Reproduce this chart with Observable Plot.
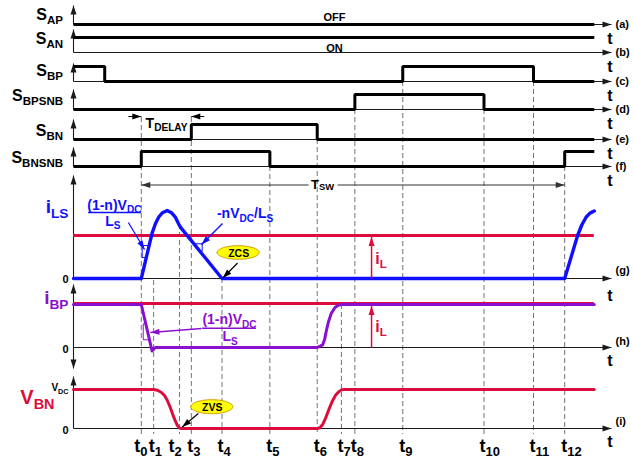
<!DOCTYPE html>
<html>
<head>
<meta charset="utf-8">
<script src="https://cdn.jsdelivr.net/npm/d3@7"></script>
<script src="https://cdn.jsdelivr.net/npm/@observablehq/plot@0.6"></script>
<style>
html,body{margin:0;padding:0;background:#fff;}
#chart svg{display:block;}
</style>
</head>
<body>
<div id="chart"></div>
<script>
// ---------------- data ----------------
const tIndex = ["0","1","2","3","4","5","6","7","8","9","10","11","12"];
const tTimes = [12.6, 14.9, 19.7, 21.9, 27.6, 36.5, 45.3, 49.8, 52.3, 61.2, 76.3, 85.5, 91.3];
const tEnd = 96.8;      // end of drawn traces
const tAxisEnd = 100;   // arrow tip of time axes
const tBPfall = 5.8;    // S_BP turn-off before t0

const swNames = ["S_{AP}", "S_{AN}", "S_{BP}", "S_{BPSNB}", "S_{BN}", "S_{BNSNB}"];
const swTags = ["(a)", "(b)", "(c)", "(d)", "(e)", "(f)"];
const swEdgeTimes = [
  [0, tEnd],
  [0, tEnd],
  [0, tBPfall, tTimes[9], tTimes[11], tEnd],
  [0, tTimes[8], tTimes[10], tEnd],
  [0, tTimes[3], tTimes[6], tEnd],
  [0, tTimes[0], tTimes[5], tTimes[12], tEnd]
];
const swStates = [[0,0],[1,1],[1,0,1,0,0],[0,1,0,0],[0,1,0,0],[0,1,0,1,1]];
const stateWords = ["OFF", "ON"];

// currents in units of i_L, voltage in units of V_DC
const iLS_t = [0, 12.6, 14.6, 15.24, 15.85, 16.54, 17.41, 18.2, 18.96, 19.5, 19.9, 27.6, 91.3, 92.5, 93.7, 94.5, 95.3, 96.0, 96.8];
const iLS_v = [0, 0, 1.05, 1.28, 1.43, 1.53, 1.58, 1.53, 1.42, 1.28, 1.19, 0, 0, 0.5, 1.0, 1.25, 1.43, 1.52, 1.57];
const iBP_t = [0, 12.6, 14.6, 15.2, 45.3, 46.3, 46.7, 47.0, 47.4, 47.9, 48.6, 49.2, 49.8, 96.8];
const iBP_v = [1, 1, -0.08, 0, 0, 0.06, 0.2, 0.39, 0.6, 0.79, 0.93, 0.98, 1, 1];
const vBN_t = [0, 14.9, 15.6, 16.3, 16.9, 17.4, 17.9, 18.4, 18.9, 19.3, 19.7, 20.0, 45.3, 45.8, 46.3, 46.9, 47.5, 48.1, 48.7, 49.3, 49.8, 50.3, 96.8];
const vBN_v = [1, 1, 0.98, 0.93, 0.85, 0.73, 0.57, 0.38, 0.2, 0.08, 0.01, 0, 0, 0.02, 0.1, 0.28, 0.5, 0.7, 0.85, 0.94, 0.99, 1, 1];
const iLLevel = 1;

// ---------------- layout ----------------
const BLUE = "#1010ff", RED = "#dc0c3c", PURPLE = "#8a10d0", YEL = "#ffff00", GOLD = "#d09a00";
const rowBase = [24, 52, 81, 109, 139, 166];
const rowTop = [5, 29, 63, 89, 119, 147];
const rowAmp = 15;
const rowLabelY = [19, 43, 75, 100, 135, 162];
const panel = {
  g: {base: 278, amp: 43, top: 175},
  h: {base: 347, amp: 43, top: 284, bottom: 368},
  i: {base: 428, amp: 39, top: 376}
};
const dashTop = [117, 280, 224, 117, 278, 166, 139, 304, 109, 81, 109, 81, 166];
const dashBottom = 434;
const tLabelDx = [-7, -5, -11, -4, -4.5, -3.5, -3.5, -4, -4, -3.5, -4.5, -4, -3.5];

const py = (p, v) => panel[p].base - v * panel[p].amp;

const swData = swEdgeTimes.flatMap((ts, r) => ts.map((t, k) => ({row: r, t, y: rowBase[r] - swStates[r][k] * rowAmp})));
const iLSData = iLS_t.map((t, k) => ({t, y: py("g", iLS_v[k])}));
const iBPData = iBP_t.map((t, k) => ({t, y: py("h", iBP_v[k])}));
const vBNData = vBN_t.map((t, k) => ({t, y: py("i", vBN_v[k])}));
const dashData = tTimes.map((t, k) => ({t, y1: dashTop[k], y2: dashBottom}));

const hAxes = [...rowBase, panel.g.base, panel.h.base, panel.i.base].map(b => ({x1: 0, x2: tAxisEnd, y1: b, y2: b}));
const vAxes = [
  ...rowBase.map((b, k) => ({x1: 0, x2: 0, y1: b, y2: rowTop[k]})),
  {x1: 0, x2: 0, y1: panel.g.base, y2: panel.g.top},
  {x1: 0, x2: 0, y1: panel.h.base, y2: panel.h.top},
  {x1: 0, x2: 0, y1: panel.h.base, y2: panel.h.bottom},
  {x1: 0, x2: 0, y1: panel.i.base, y2: panel.i.top}
];

function ellipse(cx, cy, rx, ry) {
  const n = 48;
  return d3.range(n + 1).map(k => {
    const a = Math.PI * k / n;
    const u = -Math.cos(a), s = Math.sin(a);
    return {x: cx + u * rx, y1: cy - s * ry, y2: cy + s * ry};
  });
}

const txt = (data, o) => Plot.text(data, {text: "s", x: "x", y: "y", lineAnchor: "bottom", fontWeight: "bold", ...o});
const left = (s, y, dx, size, fill) => Plot.text([{s, y}], {text: "s", y: "y", frameAnchor: "left", dx, textAnchor: "end", lineAnchor: "bottom", fontWeight: "bold", fontSize: size, fill});

const tagData = [
  ...swTags.map((s, k) => ({s, x: tAxisEnd, y: rowBase[k] + 3.5})),
  {s: "(g)", x: tAxisEnd, y: 273}, {s: "(h)", x: tAxisEnd, y: 344}, {s: "(i)", x: tAxisEnd, y: 424}
];
const tRightY = [43, 71, 100, 128, 158, 185, 300, 365, 446];
const tRight = tRightY.map(y => ({s: "t", x: tAxisEnd, y}));

const chart = Plot.plot({
  width: 634, height: 461, margin: 0,
  x: {domain: [0, 100], range: [73, 611], axis: null},
  y: {domain: [0, 461], range: [0, 461], axis: null},
  style: {fontFamily: "'Liberation Sans', Arial, Helvetica, sans-serif", background: "#fff", overflow: "visible"},
  marks: [
    Plot.ruleX(dashData, {x: "t", y1: "y1", y2: "y2", stroke: "#737373", strokeWidth: 1, strokeDasharray: "5,3"}),
    Plot.link(hAxes.concat(vAxes), {x1: "x1", y1: "y1", x2: "x2", y2: "y2", stroke: "#1a1a1a", strokeWidth: 1.1, markerEnd: "arrow", ariaLabel: "axis"}),
    Plot.ruleY([{y: py("g", iLLevel), x1: 0, x2: tEnd}], {y: "y", x1: "x1", x2: "x2", stroke: RED, strokeWidth: 3}),
    Plot.ruleY([{y: py("h", iLLevel), x1: 0, x2: tEnd}], {y: "y", x1: "x1", x2: "x2", stroke: RED, strokeWidth: 3, dy: -1}),
    Plot.line(swData, {x: "t", y: "y", z: "row", curve: "step-after", stroke: "#000", strokeWidth: 3, strokeLinejoin: "miter", strokeLinecap: "butt"}),
    Plot.line(iBPData, {x: "t", y: "y", stroke: PURPLE, strokeWidth: 3}),
    Plot.line(iLSData, {x: "t", y: "y", stroke: BLUE, strokeWidth: 3.4}),
    Plot.line(vBNData, {x: "t", y: "y", stroke: RED, strokeWidth: 3}),

    // T_DELAY
    Plot.link([{x1: 10.2, x2: tTimes[0], y: 116}, {x1: 24.3, x2: tTimes[3], y: 116}], {x1: "x1", x2: "x2", y1: "y", y2: "y", stroke: "#000", strokeWidth: 1, markerEnd: "arrow", ariaLabel: "delay"}),
    txt([{s: "T_{DELAY}", x: 13.4, y: 127}], {textAnchor: "start", fontSize: 14, fill: "#000"}),
    // T_SW
    Plot.link([{x1: 43.7, x2: tTimes[0], y: 184.5}, {x1: 49.1, x2: tTimes[12], y: 184.5}], {x1: "x1", x2: "x2", y1: "y", y2: "y", stroke: "#333", strokeWidth: 1.1, markerEnd: "arrow", ariaLabel: "span"}),
    txt([{s: "T~{SW}", x: 46.3, y: 188.5}], {textAnchor: "middle", fontSize: 13, fill: "#000"}),

    // blue slope annotations
    Plot.ruleY([{y: 212, x1: 2.8, x2: 12.6}], {y: "y", x1: "x1", x2: "x2", stroke: BLUE, strokeWidth: 1.5}),
    txt([{s: "(1-n)V_{DC}", x: 7.6, y: 209}], {textAnchor: "middle", fontSize: 14, fill: BLUE}),
    txt([{s: "L_{S}", x: 7.3, y: 225}], {textAnchor: "middle", fontSize: 14, fill: BLUE}),
    Plot.link([{x1: 10.2, y1: 222, x2: 13.2, y2: 249}], {x1: "x1", y1: "y1", x2: "x2", y2: "y2", stroke: BLUE, strokeWidth: 1.3, markerEnd: "arrow", ariaLabel: "note"}),
    Plot.line([{x: 14.06, y: 245}, {x: 12.77, y: 245}, {x: 12.77, y: 257}, {x: 13.53, y: 257}], {x: "x", y: "y", stroke: BLUE, strokeWidth: 1, curve: "linear"}),
    txt([{s: "-nV_{DC}/L_{S}", x: 31.9, y: 217.5}], {textAnchor: "middle", fontSize: 14, fill: BLUE}),
    Plot.link([{x1: 27.7, y1: 223, x2: 23.8, y2: 244}], {x1: "x1", y1: "y1", x2: "x2", y2: "y2", stroke: BLUE, strokeWidth: 1.3, markerEnd: "arrow", ariaLabel: "note"}),
    Plot.line([{x: 22.36, y: 243.3}, {x: 23.92, y: 243.3}, {x: 23.92, y: 250.7}, {x: 23.49, y: 250.7}], {x: "x", y: "y", stroke: BLUE, strokeWidth: 1, curve: "linear"}),

    // ZCS
    Plot.area(ellipse(30.7, 252.5, 3.9, 6.8), {x1: "x", y1: "y1", y2: "y2", fill: YEL, stroke: GOLD, strokeWidth: 1}),
    txt([{s: "ZCS", x: 30.7, y: 256.3}], {textAnchor: "middle", fontSize: 10.5, fill: "#000"}),
    Plot.link([{x1: 30.5, y1: 262.5, x2: 27.75, y2: 277.5}], {x1: "x1", y1: "y1", x2: "x2", y2: "y2", stroke: "#000", strokeWidth: 1.2, markerEnd: "arrow", ariaLabel: "small"}),

    // i_L arrows
    Plot.link([{x: 55.4, y1: py("g", 0), y2: py("g", iLLevel) + 1.5}, {x: 55.4, y1: py("h", 0), y2: py("h", iLLevel) + 1.5}], {x1: "x", x2: "x", y1: "y1", y2: "y2", stroke: RED, strokeWidth: 1.5, markerEnd: "arrow", ariaLabel: "il"}),
    txt([{s: "i_{L}", x: 56.1, y: 263.5}, {s: "i_{L}", x: 56.1, y: 331}], {textAnchor: "start", fontSize: 16, fill: RED}),

    // purple slope annotation
    Plot.ruleY([{y: 327.7, x1: 24.0, x2: 34.0}], {y: "y", x1: "x1", x2: "x2", stroke: PURPLE, strokeWidth: 1.5}),
    txt([{s: "(1-n)V_{DC}", x: 29.0, y: 323.5}], {textAnchor: "middle", fontSize: 14, fill: PURPLE}),
    txt([{s: "L_{S}", x: 29.1, y: 340.5}], {textAnchor: "middle", fontSize: 14, fill: PURPLE}),
    Plot.link([{x1: 23.8, y1: 328, x2: 14.3, y2: 332}], {x1: "x1", y1: "y1", x2: "x2", y2: "y2", stroke: PURPLE, strokeWidth: 1.3, markerEnd: "arrow", ariaLabel: "note"}),
    Plot.line([{x: 13.44, y: 323.3}, {x: 12.96, y: 323.3}, {x: 12.96, y: 339.3}, {x: 14.11, y: 339.3}], {x: "x", y: "y", stroke: PURPLE, strokeWidth: 1, curve: "linear"}),

    // ZVS
    Plot.area(ellipse(25.8, 406.7, 3.9, 7), {x1: "x", y1: "y1", y2: "y2", fill: YEL, stroke: GOLD, strokeWidth: 1}),
    txt([{s: "ZVS", x: 25.8, y: 410.5}], {textAnchor: "middle", fontSize: 10.5, fill: "#000"}),
    Plot.link([{x1: 23.2, y1: 413, x2: 20.2, y2: 426.5}], {x1: "x1", y1: "y1", x2: "x2", y2: "y2", stroke: "#000", strokeWidth: 1.2, markerEnd: "arrow", ariaLabel: "small"}),

    // OFF / ON
    txt([{s: stateWords[0], x: 48.5, y: 20}, {s: stateWords[1], x: 48.5, y: 51}], {textAnchor: "middle", fontSize: 11, fill: "#000"}),

    // left labels
    Plot.text(swNames, {text: d => d, y: (d, k) => rowLabelY[k], frameAnchor: "left", dx: 62.5, textAnchor: "end", lineAnchor: "bottom", fontWeight: "bold", fontSize: 16, fill: "#000"}),
    left("i_{LS}", 212, 68, 19, BLUE),
    left("i_{BP}", 303.5, 68, 19, PURPLE),
    left("V_{BN}", 403, 54, 20, RED),
    left("V_{DC}", 390.5, 68, 10, "#000"),
    left("0", 282.5, 68, 11, "#000"),
    left("0", 352.5, 68, 11, "#000"),
    left("0", 433, 68, 11, "#000"),

    // right labels
    txt(tagData, {textAnchor: "start", dx: 4, fontSize: 11, fill: "#000"}),
    txt(tRight, {textAnchor: "middle", dx: -1.5, fontSize: 16, fill: "#000"}),

    // time instants
    ...tIndex.map((s, k) => txt([{s: "t_{" + s + "}", x: tTimes[k], y: 451}], {textAnchor: "start", dx: tLabelDx[k], fontSize: 18, fill: "#000"}))
  ]
});

document.getElementById("chart").append(chart);

// filled triangular arrowheads
const headSize = {axis: [9, 3], span: [12, 2.5], delay: [8, 3], note: [9, 3.2], small: [7, 2.6], il: [11, 3]};
const NS = "http://www.w3.org/2000/svg";
chart.querySelectorAll("marker").forEach(m => {
  const g = m.closest("g[aria-label]");
  const [L, h] = headSize[g ? g.getAttribute("aria-label") : ""] || [9, 3];
  const color = m.getAttribute("stroke") || "#000";
  m.setAttribute("markerUnits", "userSpaceOnUse");
  m.setAttribute("viewBox", `${-L - 1} ${-h - 1} ${L + 2} ${2 * h + 2}`);
  m.setAttribute("markerWidth", L + 2);
  m.setAttribute("markerHeight", 2 * h + 2);
  m.setAttribute("refX", 0);
  m.setAttribute("refY", 0);
  m.setAttribute("fill", color);
  m.setAttribute("stroke", "none");
  while (m.firstChild) m.removeChild(m.firstChild);
  const p = document.createElementNS(NS, "path");
  p.setAttribute("d", `M${-L},${-h}L0,0L${-L},${h}Z`);
  m.appendChild(p);
});

// subscripts: "_{..}" lowered & smaller, "~{..}" smaller
chart.querySelectorAll("text").forEach(el => {
  const s = el.textContent;
  if (!/[_~]\{/.test(s)) return;
  const fs = parseFloat(getComputedStyle(el).fontSize) || 12;
  const parts = [];
  const re = /([_~])\{([^}]*)\}/g;
  let last = 0, m;
  while ((m = re.exec(s))) {
    if (m.index > last) parts.push({t: s.slice(last, m.index), k: ""});
    parts.push({t: m[2], k: m[1]});
    last = re.lastIndex;
  }
  if (last < s.length) parts.push({t: s.slice(last), k: ""});
  el.textContent = "";
  let off = 0;
  for (const p of parts) {
    const ts = document.createElementNS(NS, "tspan");
    const target = p.k === "_" ? fs * 0.27 : p.k === "~" ? fs * 0.06 : 0;
    if (target !== off) { ts.setAttribute("dy", (target - off).toFixed(2)); off = target; }
    if (p.k) ts.setAttribute("font-size", (fs * 0.72).toFixed(1));
    ts.textContent = p.t;
    el.appendChild(ts);
  }
});
</script>
</body>
</html>
